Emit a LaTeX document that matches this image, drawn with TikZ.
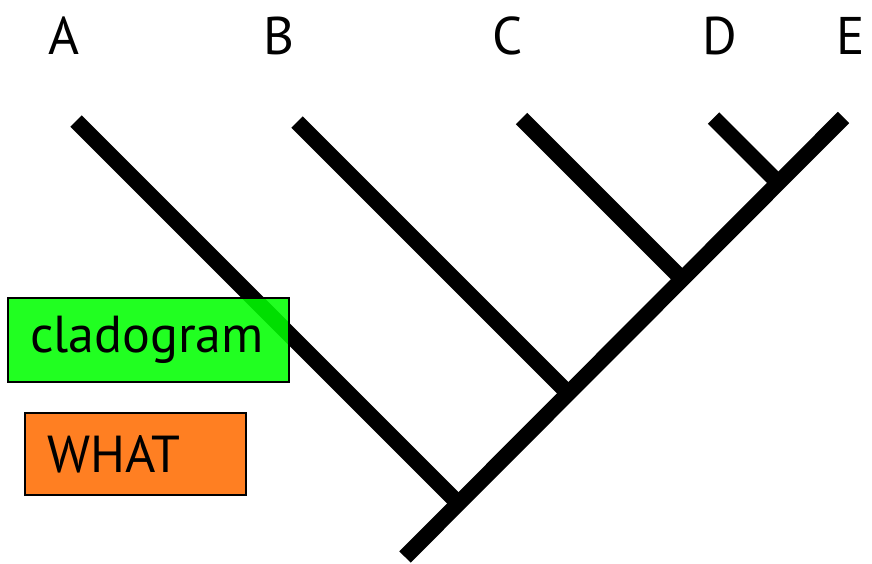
\documentclass[tikz,border=0pt]{standalone}
\usepackage{fontspec}
\setmainfont{PT Sans}
\usepackage{xcolor}
\definecolor{ink}{HTML}{000000}
\definecolor{cladogreen}{HTML}{00FF00}
\definecolor{whatorange}{HTML}{FF7F22}
\tikzset{
  branch/.style={draw=ink, line width=16pt, line cap=butt},
  box/.style={draw=ink, line width=2pt, align=left, inner xsep=22pt, inner ysep=0pt, font=\fontsize{52}{60}\selectfont},
  greenbox/.style={box, fill=cladogreen, fill opacity=0.87, text opacity=1},
  orangebox/.style={box, fill=whatorange},
  label/.style={inner sep=0pt, font=\fontsize{53}{60}\selectfont, text=ink}
}
\begin{document}
\begin{tikzpicture}[x=1pt, y=-1pt]
\useasboundingbox (0,0) rectangle (872,564);
% taxa along the top
\node[label] (labA) at (64,36) {A};
\node[label] (labB) at (279,36) {B};
\node[label] (labC) at (508,36) {C};
\node[label] (labD) at (720,36) {D};
\node[label] (labE) at (851,36) {E};
% tips, root and the points where each branch meets the stem
\coordinate (root) at (405,557);
\coordinate (tipA) at (76,121);
\coordinate (tipB) at (297,122);
\coordinate (tipC) at (521.5,118.5);
\coordinate (tipD) at (713.5,118);
\coordinate (tipE) at (843.5,117.5);
\coordinate (jA) at (458.25,503.25);
\coordinate (jB) at (568.25,393.25);
\coordinate (jC) at (682.25,279.25);
\coordinate (jD) at (778.5,183);
\draw[branch] (tipA)--(jA);
\draw[branch] (tipB)--(jB);
\draw[branch] (tipC)--(jC);
\draw[branch] (tipD)--(jD);
\draw[branch] (root)--(tipE);
% boxes sit over the tree
\node[greenbox, text width=237pt, minimum height=84pt] (clado) at (148.5,340) {cladogram};
\node[orangebox, text width=177pt, minimum height=82pt] (what) at (135.5,454) {WHAT};
\end{tikzpicture}
\end{document}
